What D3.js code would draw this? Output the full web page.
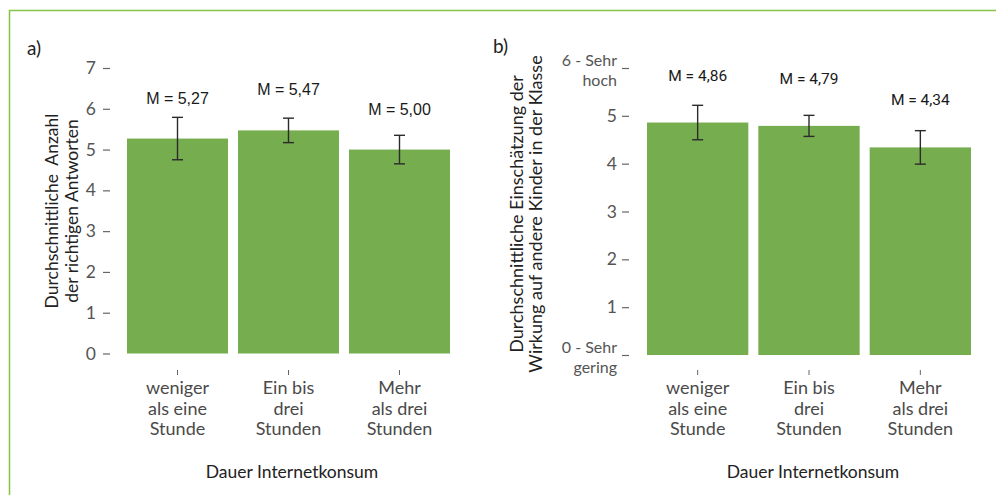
<!DOCTYPE html>
<html>
<head>
<meta charset="utf-8">
<script src="https://cdn.jsdelivr.net/npm/d3@7"></script>
<style>
  html, body { margin: 0; padding: 0; background: #fff; }
  svg { display: block; }
</style>
</head>
<body>
<svg id="chart" width="996" height="495"></svg>
<script>
// Categories shared by both panels (multi-line labels)
const categories = [
  ["weniger", "als eine", "Stunde"],
  ["Ein bis", "drei", "Stunden"],
  ["Mehr", "als drei", "Stunden"]
];
const xTitle = "Dauer Internetkonsum";

// Panel a): number of correct answers
const meansA = [5.27, 5.47, 5.00];
const errorsA = [0.52, 0.30, 0.35];
const ticksA = [0, 1, 2, 3, 4, 5, 6, 7];
const yTitleA = ["Durchschnittliche\u00a0\u00a0Anzahl", "der richtigen Antworten"];

// Panel b): perceived effect on other children (0-6 scale)
const meansB = [4.86, 4.79, 4.34];
const errorsB = [0.36, 0.22, 0.35];
const ticksB = [0, 1, 2, 3, 4, 5, 6];
const tickLabelsB = { 0: ["0 - Sehr", "gering"], 6: ["6 - Sehr", "hoch"] };
const yTitleB = ["Durchschnittliche Einschätzung der", "Wirkung auf andere Kinder in der Klasse"];

const fmt = v => "M = " + v.toFixed(2).replace(".", ",");

const svg = d3.select("#chart");
const BAR = "#76ad4f";
const FRAME = "#86c447";
const UI_FONT = "Lato, 'Open Sans', sans-serif";

// Outer frame (top and left rules)
svg.append("line").attr("x1", 9).attr("x2", 996).attr("y1", 10.5).attr("y2", 10.5)
  .attr("stroke", FRAME).attr("stroke-width", 1.5);
svg.append("line").attr("x1", 9.5).attr("x2", 9.5).attr("y1", 10).attr("y2", 495)
  .attr("stroke", FRAME).attr("stroke-width", 1.5);

function drawPanel(cfg) {
  const g = svg.append("g");
  const y = d3.scaleLinear().domain([0, cfg.max]).range([cfg.yBottom, cfg.yTop]);
  const x = d3.scaleBand().domain(d3.range(cfg.means.length))
    .range([cfg.xLeft, cfg.xRight]).paddingInner(0.09).paddingOuter(0);

  // Panel letter
  g.append("text").attr("x", cfg.letterX).attr("y", cfg.letterY)
    .attr("font-family", UI_FONT).attr("font-size", 19).attr("fill", "#222")
    .text(cfg.letter);

  // Bars
  g.selectAll("rect.bar").data(cfg.means).join("rect")
    .attr("class", "bar")
    .attr("x", (d, i) => x(i))
    .attr("width", x.bandwidth())
    .attr("y", d => y(d))
    .attr("height", d => y(0) - y(d))
    .attr("fill", BAR);

  // Error bars
  const eb = g.selectAll("g.err").data(cfg.means).join("g").attr("class", "err")
    .attr("stroke", "#2b2b2b").attr("stroke-width", 1.4);
  eb.append("line")
    .attr("x1", (d, i) => x(i) + x.bandwidth() / 2)
    .attr("x2", (d, i) => x(i) + x.bandwidth() / 2)
    .attr("y1", (d, i) => y(d + cfg.errors[i]))
    .attr("y2", (d, i) => y(d - cfg.errors[i]));
  [1, -1].forEach(s => {
    eb.append("line")
      .attr("x1", (d, i) => x(i) + x.bandwidth() / 2 - 5.5)
      .attr("x2", (d, i) => x(i) + x.bandwidth() / 2 + 5.5)
      .attr("y1", (d, i) => y(d + s * cfg.errors[i]))
      .attr("y2", (d, i) => y(d + s * cfg.errors[i]));
  });

  // Mean labels
  g.selectAll("text.mean").data(cfg.means).join("text")
    .attr("class", "mean")
    .attr("x", (d, i) => x(i) + x.bandwidth() / 2)
    .attr("y", d => y(d) - cfg.labelOffset)
    .attr("text-anchor", "middle")
    .attr("font-family", cfg.meanFont).attr("font-size", cfg.meanSize).attr("fill", "#1a1a1a")
    .text(fmt);

  // Y axis
  const yAxis = d3.axisLeft(y).tickValues(cfg.ticks).tickSize(7).tickPadding(cfg.tickPad)
    .tickFormat(d => (cfg.tickLabels && cfg.tickLabels[d]) ? "" : d);
  const ya = g.append("g").attr("transform", `translate(${cfg.axisX},0)`).call(yAxis);
  ya.select(".domain").remove();
  ya.selectAll(".tick line").attr("stroke", "#666").attr("stroke-width", 1.2);
  ya.selectAll(".tick text").attr("font-family", UI_FONT).attr("font-size", 17.5)
    .attr("fill", "#555");
  if (cfg.tickLabels) {
    // Two-line end labels, drawn as separate lines around the tick
    ya.selectAll(".tick").filter(d => cfg.tickLabels[d]).each(function (d) {
      const tk = d3.select(this);
      tk.select("text").remove();
      cfg.tickLabels[d].forEach((line, k) => {
        tk.append("text")
          .attr("x", -7 - cfg.tickPad).attr("y", k === 0 ? -3 : 17)
          .attr("text-anchor", "end")
          .attr("font-family", UI_FONT).attr("font-size", 16).attr("fill", "#555")
          .text(line);
      });
    });
  }

  // Category axis: small ticks and multi-line labels
  const xAxis = d3.axisBottom(x).tickSize(5).tickFormat("");
  const xa = g.append("g").attr("transform", "translate(0,370)").call(xAxis);
  xa.select(".domain").remove();
  xa.selectAll(".tick line").attr("stroke", "#666");
  const cat = g.selectAll("text.cat").data(categories).join("text")
    .attr("class", "cat")
    .attr("text-anchor", "middle")
    .attr("font-family", UI_FONT).attr("font-size", 18).attr("fill", "#4a4a4a");
  cat.each(function (lines, i) {
    const cx = x(i) + x.bandwidth() / 2;
    d3.select(this).selectAll("tspan").data(lines).join("tspan")
      .attr("x", cx).attr("y", (l, k) => 394 + k * 20.5).text(l => l);
  });

  // X title
  g.append("text").attr("x", cfg.xTitleX).attr("y", 478)
    .attr("text-anchor", "middle").attr("font-family", UI_FONT)
    .attr("font-size", 17.5).attr("fill", "#222").text(xTitle);

  // Y title (two rotated lines)
  const yt = g.append("text")
    .attr("transform", `translate(${cfg.yTitleX},${cfg.yTitleY}) rotate(-90)`)
    .attr("text-anchor", "middle").attr("font-family", UI_FONT)
    .attr("font-size", cfg.yTitleSize).attr("fill", "#222");
  cfg.yTitle.forEach((line, k) => {
    yt.append("tspan").attr("x", 0).attr("y", k * cfg.yTitleGap).text(line);
  });
}

drawPanel({
  letter: "a)", letterX: 27, letterY: 55,
  means: meansA, errors: errorsA, ticks: ticksA, max: 7,
  xLeft: 127, xRight: 450, yTop: 68, yBottom: 353.5,
  axisX: 110, tickPad: 7, labelOffset: 35,
  meanFont: "'Liberation Sans', Arial, sans-serif", meanSize: 16,
  xTitleX: 292, yTitle: yTitleA, yTitleX: 58, yTitleY: 211, yTitleGap: 20, yTitleSize: 17.5
});

drawPanel({
  letter: "b)", letterX: 493, letterY: 53,
  means: meansB, errors: errorsB, ticks: ticksB, max: 6, tickLabels: tickLabelsB,
  xLeft: 647, xRight: 971, yTop: 68, yBottom: 355,
  axisX: 629, tickPad: 5, labelOffset: 42,
  meanFont: "Roboto, sans-serif", meanSize: 15.5,
  xTitleX: 813, yTitle: yTitleB, yTitleX: 523, yTitleY: 214, yTitleGap: 19, yTitleSize: 18
});
</script>
</body>
</html>
